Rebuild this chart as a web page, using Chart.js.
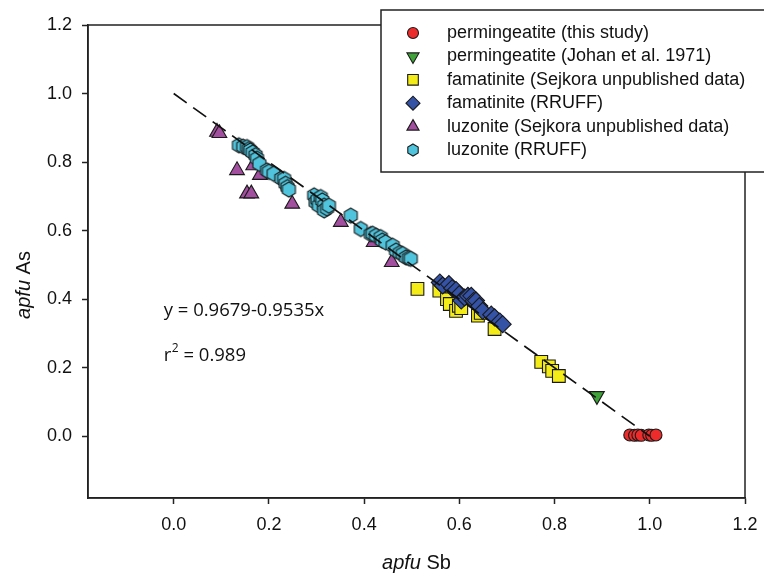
<!DOCTYPE html>
<html>
<head>
<meta charset="utf-8">
<script src="https://cdn.jsdelivr.net/npm/chart.js@4/dist/chart.umd.min.js"></script>
<style>
  body { margin: 0; background: #ffffff; }
  #wrap { width: 764px; height: 574px; }
</style>
</head>
<body>
<div id="wrap"><canvas id="chart" width="764" height="574"></canvas></div>
<script>
const xTicks = [0.0, 0.2, 0.4, 0.6, 0.8, 1.0, 1.2];
const yTicks = [0.0, 0.2, 0.4, 0.6, 0.8, 1.0, 1.2];

const permThisStudy = [
  [0.958, 0.004], [0.968, 0.003], [0.975, 0.004], [0.982, 0.003],
  [0.998, 0.004], [1.004, 0.003], [1.013, 0.004],
];
const permJohan = [[0.889, 0.118]];
const famSejkora = [
  [0.512, 0.430], [0.558, 0.425], [0.574, 0.400], [0.580, 0.386],
  [0.593, 0.366], [0.599, 0.381], [0.604, 0.374], [0.639, 0.352],
  [0.645, 0.360], [0.674, 0.313], [0.772, 0.217], [0.788, 0.204],
  [0.795, 0.191], [0.809, 0.176],
];
const famRruff = [
  [0.559, 0.449], [0.565, 0.440], [0.578, 0.444], [0.585, 0.432],
  [0.593, 0.427], [0.600, 0.415], [0.604, 0.396], [0.611, 0.405],
  [0.618, 0.410], [0.625, 0.410], [0.630, 0.395], [0.635, 0.396],
  [0.642, 0.380], [0.649, 0.366], [0.667, 0.355], [0.674, 0.347],
  [0.685, 0.335], [0.691, 0.327],
];
const luzSejkora = [
  [0.091, 0.888], [0.096, 0.884], [0.133, 0.776], [0.154, 0.708],
  [0.163, 0.708], [0.167, 0.790], [0.181, 0.762], [0.249, 0.678],
  [0.351, 0.625], [0.420, 0.566], [0.458, 0.508],
];
const luzRruff = [
  [0.137, 0.849], [0.146, 0.845], [0.154, 0.844], [0.158, 0.838],
  [0.161, 0.834], [0.166, 0.828], [0.172, 0.820], [0.175, 0.810],
  [0.180, 0.795], [0.196, 0.776], [0.200, 0.772], [0.210, 0.766],
  [0.226, 0.752], [0.232, 0.751], [0.235, 0.737], [0.239, 0.727],
  [0.242, 0.720],
  [0.295, 0.703], [0.298, 0.683], [0.302, 0.690], [0.305, 0.673],
  [0.309, 0.698], [0.312, 0.688], [0.316, 0.673], [0.316, 0.659],
  [0.322, 0.665], [0.326, 0.673],
  [0.372, 0.644], [0.393, 0.605], [0.414, 0.590], [0.418, 0.591],
  [0.425, 0.585], [0.435, 0.581], [0.438, 0.571], [0.445, 0.566],
  [0.460, 0.556], [0.467, 0.542], [0.475, 0.535], [0.481, 0.532],
  [0.488, 0.522], [0.494, 0.520], [0.498, 0.518],
];
const fitLine = [[0, 1], [1, 0]];

const FONT = "'Liberation Sans', Arial, Helvetica, sans-serif";

function makeHexagon(r, fill) {
  const c = document.createElement("canvas");
  const s = Math.ceil(r * 2 + 4);
  c.width = s;
  c.height = s;
  const g = c.getContext("2d");
  g.beginPath();
  for (let i = 0; i < 6; i++) {
    const a = -Math.PI / 2 + (i * Math.PI) / 3;
    const px = s / 2 + r * Math.cos(a);
    const py = s / 2 + r * Math.sin(a);
    if (i === 0) g.moveTo(px, py);
    else g.lineTo(px, py);
  }
  g.closePath();
  g.fillStyle = fill;
  g.fill();
  g.lineWidth = 1.1;
  g.strokeStyle = "#1a1a1a";
  g.stroke();
  return c;
}

const toXY = (arr) => arr.map((p) => ({ x: p[0], y: p[1] }));

const series = [
  { label: "permingeatite (this study)", data: permThisStudy, color: "#ee2b2b", style: "circle", radius: 6, rot: 0, order: 5 },
  { label: "permingeatite (Johan et al. 1971)", data: permJohan, color: "#3fa33a", style: "triangle", radius: 8.5, rot: 180, order: 6 },
  { label: "famatinite (Sejkora unpublished data)", data: famSejkora, color: "#f4ec18", style: "rect", radius: 9, rot: 0, order: 2 },
  { label: "famatinite (RRUFF)", data: famRruff, color: "#3452a6", style: "rectRot", radius: 8.5, rot: 0, order: 1 },
  { label: "luzonite (Sejkora unpublished data)", data: luzSejkora, color: "#a24f9f", style: "triangle", radius: 8.5, rot: 0, order: 4 },
  { label: "luzonite (RRUFF)", data: luzRruff, color: "#4fc4dc", style: "hexagon", radius: 7.5, rot: 0, order: 3 },
];

const datasets = series.map((s) => ({
  type: "scatter",
  label: s.label,
  data: toXY(s.data),
  pointStyle: s.style === "hexagon" ? makeHexagon(s.radius, s.color) : s.style,
  rotation: s.rot,
  pointRadius: s.radius,
  pointBackgroundColor: s.color,
  pointBorderColor: "#1a1a1a",
  pointBorderWidth: 1.1,
  order: s.order,
}));

datasets.push({
  type: "line",
  label: "fit",
  data: toXY(fitLine),
  borderColor: "#111111",
  borderWidth: 1.7,
  borderDash: [16, 8],
  pointRadius: 0,
  fill: false,
  order: 0,
});

const framePlugin = {
  id: "frame",
  afterDatasetsDraw(chart) {
    const { ctx, chartArea: a } = chart;
    ctx.save();
    ctx.strokeStyle = "#222222";
    ctx.lineWidth = 1.5;
    ctx.strokeRect(a.left, a.top, a.right - a.left, a.bottom - a.top);
    ctx.restore();
  },
};

const textPlugin = {
  id: "texts",
  afterDraw(chart) {
    const { ctx, scales } = chart;
    ctx.save();
    ctx.fillStyle = "#111111";
    ctx.textBaseline = "middle";

    // axis titles, with apfu in italics
    const drawTitle = (italic, normal, cx, cy, angle) => {
      ctx.save();
      ctx.translate(cx, cy);
      ctx.rotate(angle);
      ctx.font = "italic 20px " + FONT;
      const w1 = ctx.measureText(italic).width;
      ctx.font = "20px " + FONT;
      const w2 = ctx.measureText(normal).width;
      const x0 = -(w1 + w2) / 2;
      ctx.textAlign = "left";
      ctx.font = "italic 20px " + FONT;
      ctx.fillText(italic, x0, 0);
      ctx.font = "20px " + FONT;
      ctx.fillText(normal, x0 + w1, 0);
      ctx.restore();
    };
    drawTitle("apfu", " Sb", (chart.chartArea.left + chart.chartArea.right) / 2, 563, 0);
    drawTitle("apfu", " As", 24, 285, -Math.PI / 2);

    // regression annotation
    const ax = scales.x.getPixelForValue(-0.021);
    ctx.textAlign = "left";
    ctx.font = "18.5px 'Open Sans', sans-serif";
    ctx.fillText("y = 0.9679-0.9535x", ax, scales.y.getPixelForValue(0.365));
    const ry = scales.y.getPixelForValue(0.234);
    const rPart = "r";
    ctx.fillText(rPart, ax, ry);
    const rw = ctx.measureText(rPart).width;
    ctx.font = "12px 'Open Sans', sans-serif";
    ctx.fillText("2", ax + rw + 0.5, ry - 8);
    const sw = ctx.measureText("2").width;
    ctx.font = "18.5px 'Open Sans', sans-serif";
    ctx.fillText(" = 0.989", ax + rw + sw + 0.5, ry);
    ctx.restore();
  },
};

const legendPlugin = {
  id: "boxLegend",
  afterDraw(chart) {
    const { ctx } = chart;
    const left = 381, top = 10, right = 770, bottom = 172;
    ctx.save();
    ctx.fillStyle = "#ffffff";
    ctx.fillRect(left, top, right - left, bottom - top);
    ctx.strokeStyle = "#222222";
    ctx.lineWidth = 1.5;
    ctx.strokeRect(left, top, right - left, bottom - top);

    const rowY0 = 33, rowStep = 23.4;
    series.forEach((s, i) => {
      const y = rowY0 + i * rowStep;
      const mx = 413;
      ctx.fillStyle = s.color;
      ctx.strokeStyle = "#1a1a1a";
      ctx.lineWidth = 1.1;
      const r = s.style === "circle" ? 5.5 : s.style === "rect" ? 7.5 : 7;
      const style = s.style === "hexagon" ? makeHexagon(6, s.color) : s.style;
      Chart.helpers.drawPoint(ctx, { pointStyle: style, rotation: s.rot, radius: r, borderWidth: 1.1 }, mx, y);
      ctx.fillStyle = "#111111";
      ctx.font = "18px " + FONT;
      ctx.textAlign = "left";
      ctx.textBaseline = "middle";
      ctx.fillText(s.label, 447, y);
    });
    ctx.restore();
  },
};

function axisOptions(ticks, afterFit, padding) {
  return {
    type: "linear",
    min: -0.18,
    max: 1.2,
    afterBuildTicks: (scale) => {
      scale.ticks = ticks.map((v) => ({ value: v }));
    },
    afterFit: afterFit,
    ticks: {
      font: { size: 18, family: FONT },
      color: "#111111",
      padding: padding,
      maxRotation: 0,
      autoSkip: false,
      callback: (v) => Number(v).toFixed(1),
    },
    grid: {
      drawOnChartArea: false,
      drawTicks: true,
      tickLength: 6,
      tickColor: "#222222",
      tickWidth: 1.5,
    },
    border: { color: "#222222", width: 1.5 },
  };
}

new Chart(document.getElementById("chart").getContext("2d"), {
  type: "scatter",
  data: { datasets: datasets },
  options: {
    responsive: false,
    animation: false,
    layout: { padding: { top: 25, right: 19, left: 0, bottom: 0 } },
    plugins: {
      legend: { display: false },
      tooltip: { enabled: false },
    },
    scales: {
      x: axisOptions(xTicks, (s) => { s.height = 76; s.paddingLeft = 0; s.paddingRight = 0; }, 10),
      y: axisOptions(yTicks, (s) => { s.width = 88; s.paddingTop = 0; s.paddingBottom = 0; }, 10),
    },
  },
  plugins: [framePlugin, textPlugin, legendPlugin],
});
</script>
</body>
</html>
